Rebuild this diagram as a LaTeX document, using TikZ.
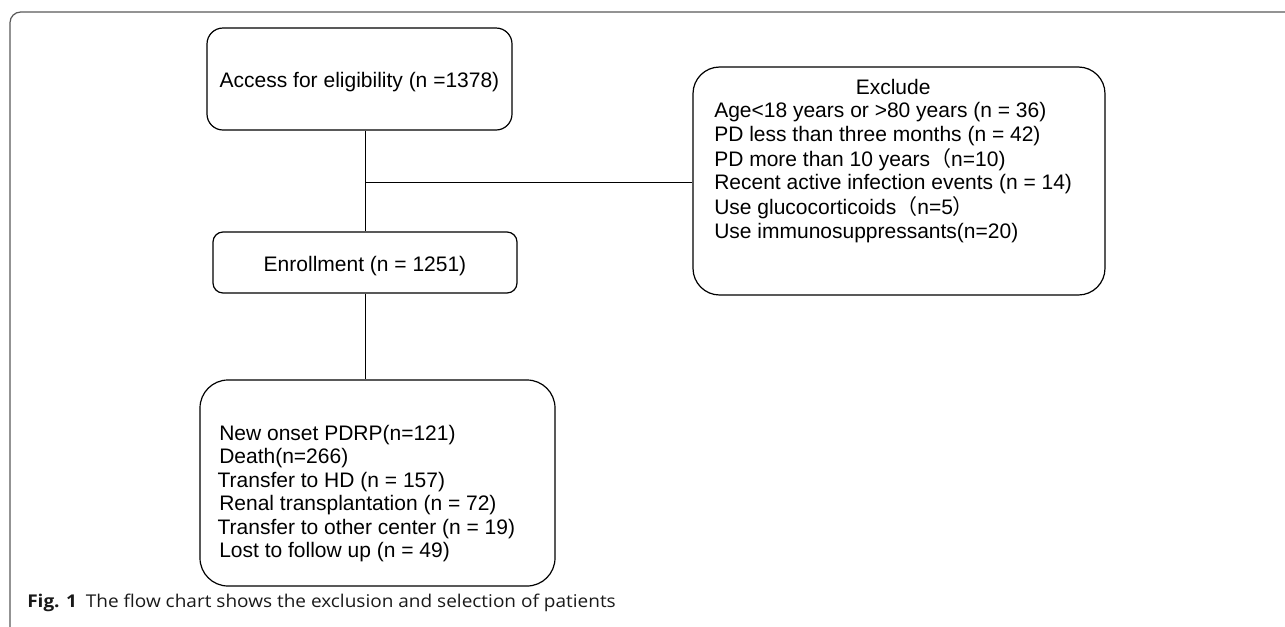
\documentclass[tikz,border=0pt]{standalone}
\usepackage{fontspec}
\setmainfont{Liberation Sans}
\newfontfamily\capfont{Open Sans}[FakeStretch=1.08]
\newfontfamily\cjk{Noto Sans CJK SC}
\begin{document}
\begin{tikzpicture}[x=0.75pt,y=-0.75pt,
  box/.style={draw=black,line width=0.9pt,inner sep=0pt,
    font=\fontsize{15.75}{17.6}\selectfont,text height=12.75pt,text depth=0pt},
  txt/.style={inner sep=0pt,font=\fontsize{15.75}{17.6}\selectfont},
  link/.style={draw=black,line width=0.75pt},
  frame/.style={draw=black!65,line width=0.9pt,rounded corners=8pt}]
\useasboundingbox (0,0) rectangle (1285,626);
% outer frame (open at right and bottom)
\draw[frame] (1300,12) -- (10,12) -- (10,640);
% boxes
\node[box,rounded corners=12pt,minimum width=228.75pt,minimum height=76.5pt]
  (access) at (359.5,79) {Access for eligibility (n =1378)};
\node[box,rounded corners=7.5pt,minimum width=228pt,minimum height=45.75pt]
  (enroll) at (365,262.5) {Enrollment (n = 1251)};
\node[box,rounded corners=20pt,minimum width=309pt,minimum height=171pt]
  (exclude) at (899,181) {};
\node[box,rounded corners=21pt,minimum width=266.25pt,minimum height=154.5pt]
  (outcome) at (377.5,483) {};
% box texts
\node[txt,anchor=base west] (exclist) at (714,94.5) {%
  \begin{tabular}[t]{@{}l@{}}
  \multicolumn{1}{@{}c@{}}{Exclude}\\
  Age<18 years or >80 years (n = 36)\\
  PD less than three months (n = 42)\\
  PD more than 10 years{\cjk （}n=10)\\
  Recent active infection events (n = 14)\\
  Use glucocorticoids{\cjk （}n=5{\cjk ）}\\
  Use immunosuppressants(n=20)
  \end{tabular}};
\node[txt,anchor=base west] (outlist) at (219,440.5) {%
  \begin{tabular}[t]{@{}l@{}}
  New onset PDRP(n=121)\\
  Death(n=266)\\
  \hspace*{-1.2pt}Transfer to HD (n = 157)\\
  Renal transplantation (n = 72)\\
  \hspace*{-1.2pt}Transfer to other center (n = 19)\\
  Lost to follow up (n = 49)
  \end{tabular}};
% connectors
\coordinate (junc) at (365,182);
\draw[link] (access.south -| enroll.north) -- (enroll.north);
\draw[link] (junc) -- (junc -| exclude.west);
\draw[link] (enroll.south) -- (enroll.south |- outcome.north);
% caption
\node[anchor=base west,inner sep=0pt,text=black!90,
  font=\capfont\fontsize{13.2}{15}\selectfont] (cap) at (27,607.3)
  {\textbf{Fig. 1}\hspace{0.5em}The flow chart shows the exclusion and selection of patients};
\end{tikzpicture}
\end{document}
